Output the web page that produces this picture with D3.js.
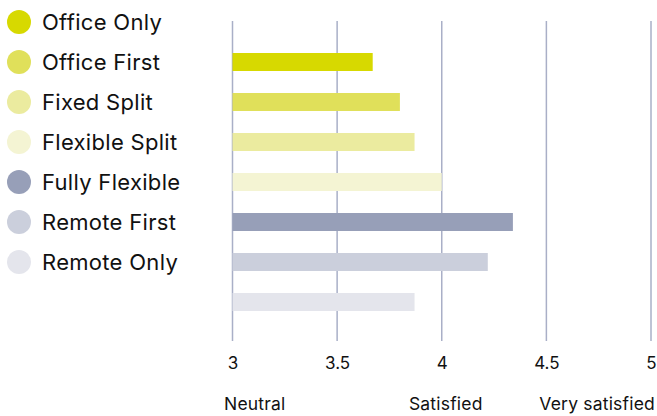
<!DOCTYPE html>
<html>
<head>
<meta charset="utf-8">
<script src="https://cdn.jsdelivr.net/npm/d3@7"></script>
<style>
  html, body { margin: 0; padding: 0; background: #fff; }
  svg { display: block; font-family: Inter, "Noto Sans", sans-serif; }
</style>
</head>
<body>
<svg id="chart" width="657" height="416"></svg>
<script>
// Work arrangement types and their average satisfaction score
const categories = ["Office Only", "Office First", "Fixed Split", "Flexible Split", "Fully Flexible", "Remote First", "Remote Only"];
const scores = [3.67, 3.80, 3.87, 4.00, 4.34, 4.22, 3.87];
const colors = ["#d7d900", "#e0e05a", "#ebeb9f", "#f4f4d3", "#979fb8", "#cbcfdc", "#e4e5ec"];
const tickValues = [3, 3.5, 4, 4.5, 5];
const scaleLabels = [
  { value: 3, text: "Neutral", anchor: "start" },
  { value: 4, text: "Satisfied", anchor: "middle" },
  { value: 5, text: "Very satisfied", anchor: "end" }
];

const svg = d3.select("#chart");

const x = d3.scaleLinear().domain([3, 5]).range([232.5, 651]);
const yBar = d3.scalePoint().domain(categories).range([62, 302]);
const yLegend = d3.scalePoint().domain(categories).range([22, 262]);
const barH = 18;

// vertical gridlines
svg.append("g")
  .selectAll("line")
  .data(tickValues)
  .join("line")
  .attr("x1", d => x(d)).attr("x2", d => x(d))
  .attr("y1", 21).attr("y2", 341)
  .attr("stroke", "#a9afc7")
  .attr("stroke-width", 1.5);

// bars
svg.append("g")
  .selectAll("rect")
  .data(categories)
  .join("rect")
  .attr("x", x(3))
  .attr("y", d => yBar(d) - barH / 2)
  .attr("width", (d, i) => x(scores[i]) - x(3))
  .attr("height", barH)
  .attr("fill", (d, i) => colors[i]);

// legend
const legend = svg.append("g")
  .selectAll("g")
  .data(categories)
  .join("g")
  .attr("transform", d => `translate(0,${yLegend(d)})`);
legend.append("circle")
  .attr("cx", 19).attr("cy", 0).attr("r", 12)
  .attr("fill", (d, i) => colors[i]);
legend.append("text")
  .attr("x", 42).attr("y", 7.8)
  .attr("font-size", 22)
  .attr("letter-spacing", 0.3)
  .attr("fill", "#111")
  .text(d => d);

// numeric axis labels
const axis = d3.axisBottom(x).tickValues(tickValues).tickSize(0).tickPadding(0)
  .tickFormat(d3.format("~g"));
const axisG = svg.append("g").attr("transform", "translate(0,369)").call(axis);
axisG.select(".domain").remove();
axisG.selectAll("text")
  .attr("font-size", 17)
  .attr("font-family", "Inter, 'Noto Sans', sans-serif")
  .attr("fill", "#111")
  .attr("y", 0)
  .attr("dy", 0);

// descriptive scale labels
svg.append("g")
  .selectAll("text")
  .data(scaleLabels)
  .join("text")
  .attr("x", d => d.anchor === "start" ? x(d.value) - 8.5 : x(d.value) + 4)
  .attr("y", 410)
  .attr("text-anchor", d => d.anchor)
  .attr("font-size", 17.5)
  .attr("letter-spacing", 0.2)
  .attr("fill", "#111")
  .text(d => d.text);
</script>
</body>
</html>
